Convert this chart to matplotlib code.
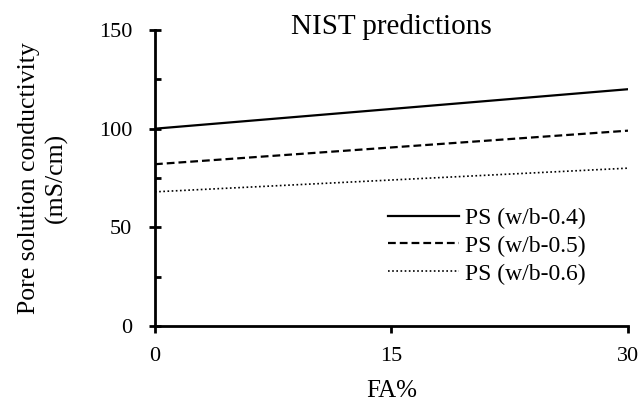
import matplotlib
matplotlib.use("Agg")
import matplotlib.pyplot as plt
from matplotlib.ticker import MultipleLocator

# data
fa = [0, 30]
ps_04 = [100, 120]
ps_05 = [82, 99]
ps_06 = [68, 80]
labels = ["PS (w/b-0.4)", "PS (w/b-0.5)", "PS (w/b-0.6)"]

plt.rcParams["font.family"] = ["Liberation Serif", "DejaVu Serif"]
plt.rcParams["font.size"] = 16

fig = plt.figure(figsize=(6.41, 4.04), dpi=100)
ax = fig.add_axes([0.2418, 0.193, 0.7379, 0.7327])

ax.plot(fa, ps_04, color="black", lw=1.6, ls="-", label=labels[0])
ax.plot(fa, ps_05, color="black", lw=1.6, ls=(0, (3.5, 1.8)), label=labels[1])
ax.plot(fa, ps_06, color="black", lw=1.2, ls=(0, (1, 1.5)), label=labels[2])

ax.set_xlim(0, 30)
ax.set_ylim(0, 150)
ax.set_xticks([0, 15, 30])
ax.set_yticks([0, 50, 100, 150])
ax.yaxis.set_minor_locator(MultipleLocator(25))

for s in ["top", "right"]:
    ax.spines[s].set_visible(False)
for s in ["left", "bottom"]:
    ax.spines[s].set_linewidth(2)

ax.tick_params(axis="y", which="major", direction="inout", length=9, width=2, pad=12,
               labelsize=16)
ax.tick_params(axis="y", which="minor", direction="in", length=4, width=2)
ax.tick_params(axis="x", which="major", direction="out", length=5, width=2, pad=10,
               labelsize=16)

ax.set_title("NIST predictions", fontsize=21, pad=0, y=0.985)
ax.set_xlabel("FA%", fontsize=18, labelpad=10)
ax.set_ylabel("Pore solution conductivity\n(mS/cm)", fontsize=18.5, linespacing=1.25)
ax.yaxis.set_label_coords(-0.184, 0.5)

ax.legend(loc="center left", bbox_to_anchor=(376 / 641, 1 - 246 / 404),
          bbox_transform=fig.transFigure, frameon=False, borderpad=0,
          handlelength=3.0, handletextpad=0.25, labelspacing=0.27, fontsize=17)

fig.savefig("out.png", dpi=100)
